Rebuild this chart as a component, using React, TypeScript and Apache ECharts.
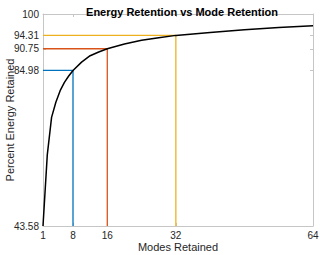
import React, { useEffect, useRef } from "react";
import * as echarts from "echarts";

const modes = [1, 2, 3, 4, 5, 6, 7, 8, 10, 12, 14, 16, 20, 24, 28, 32, 40, 48, 56, 64];
const energy = [43.58, 62.5, 72.5, 76.5, 79.6, 81.8, 83.5, 84.98, 87.2, 88.9, 89.9, 90.75, 92.0, 93.0, 93.7, 94.31, 95.1, 95.8, 96.4, 96.9];
const markModes = [8, 16, 32];
const markValues = [84.98, 90.75, 94.31];
const markColors = ["#0072BD", "#D95319", "#EDB120"];
const xTicks = [1, 8, 16, 32, 64];
const yTicks = [43.58, 84.98, 90.75, 94.31, 100];
const xMin = 1;
const xMax = 64;
const yMin = 43.58;
const yMax = 100;

const FONT = "Liberation Sans, Arial, Helvetica, sans-serif";
const AXIS_COLOR = "#c6c6c6";
const TEXT_COLOR = "#262626";

export default function App() {
  const ref = useRef<HTMLDivElement>(null);
  useEffect(() => {
    if (!ref.current) return;
    const chart = echarts.init(ref.current, undefined, { renderer: "svg" });
    const tickBase = {
      show: true,
      inside: true,
      length: 3,
      lineStyle: { color: AXIS_COLOR, width: 1 },
    };
    const xAxisCommon = {
      type: "value" as const,
      min: xMin,
      max: xMax,
      splitLine: { show: false },
      axisLine: { show: true, onZero: false, lineStyle: { color: AXIS_COLOR, width: 1 } },
      axisTick: { ...tickBase, customValues: xTicks },
    };
    const yAxisCommon = {
      type: "value" as const,
      min: yMin,
      max: yMax,
      splitLine: { show: false },
      axisLine: { show: true, onZero: false, lineStyle: { color: AXIS_COLOR, width: 1 } },
      axisTick: { ...tickBase, customValues: yTicks },
    };
    const markSeries = markModes.map((m, i) => ({
      type: "line" as const,
      data: [
        [xMin, markValues[i]],
        [m, markValues[i]],
        [m, yMin],
      ],
      symbol: "none",
      lineStyle: { color: markColors[i], width: 1.3 },
      z: 2,
      silent: true,
    }));
    chart.setOption({
      animation: false,
      textStyle: { fontFamily: FONT },
      title: {
        text: "Energy Retention vs Mode Retention",
        left: 177,
        textAlign: "center",
        top: 1,
        textStyle: { fontSize: 11, fontWeight: "bold", color: "#000", fontFamily: FONT },
      },
      grid: {
        left: 43,
        right: 7,
        top: 14,
        bottom: 29,
        containLabel: false,
        outerBoundsMode: "none",
      },
      xAxis: [
        {
          ...xAxisCommon,
          position: "bottom",
          name: "Modes Retained",
          nameLocation: "middle",
          nameGap: 15,
          nameMoveOverlap: false,
          nameTextStyle: { fontSize: 11, color: TEXT_COLOR, fontFamily: FONT },
          axisLabel: {
            show: true,
            customValues: xTicks,
            fontSize: 10,
            color: TEXT_COLOR,
            margin: 4,
            fontFamily: FONT,
          },
        },
        {
          ...xAxisCommon,
          position: "top",
          axisLabel: { show: false },
        },
      ],
      yAxis: [
        {
          ...yAxisCommon,
          position: "left",
          name: "Percent Energy Retained",
          nameLocation: "middle",
          nameGap: 28,
          nameMoveOverlap: false,
          nameTextStyle: { fontSize: 11, color: TEXT_COLOR, fontFamily: FONT },
          axisLabel: {
            show: true,
            customValues: yTicks,
            fontSize: 10,
            color: TEXT_COLOR,
            margin: 4,
            fontFamily: FONT,
            formatter: (v: number) => String(v),
          },
        },
        {
          ...yAxisCommon,
          position: "right",
          axisLabel: { show: false },
        },
      ],
      series: [
        ...markSeries,
        {
          type: "line",
          data: modes.map((m, i) => [m, energy[i]]),
          symbol: "none",
          lineStyle: { color: "#000", width: 1.5 },
          z: 3,
          silent: true,
        },
      ],
    });
    return () => chart.dispose();
  }, []);
  return (
    <div
      ref={ref}
      style={{ position: "absolute", left: 0, top: 0, width: 320, height: 255 }}
    />
  );
}
